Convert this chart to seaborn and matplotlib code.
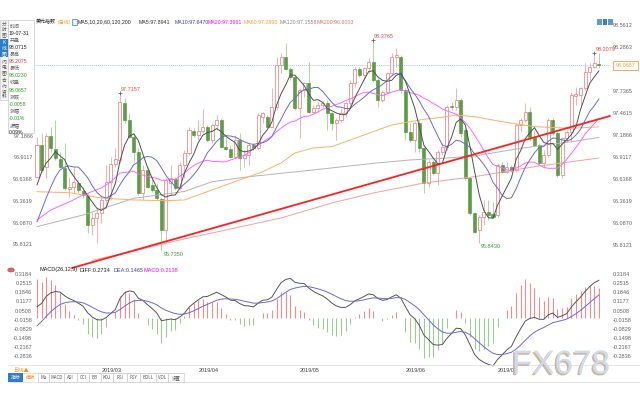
import numpy as np
import pandas as pd
import matplotlib
matplotlib.use("Agg")
import matplotlib.pyplot as plt
import matplotlib.patheffects as pe
import matplotlib.transforms as mtransforms
from matplotlib.patches import Rectangle
from matplotlib.lines import Line2D
import seaborn as sns

sns.set_theme(style="white")
plt.rcParams["font.family"] = ["Liberation Sans Narrow", "Liberation Sans", "Noto Sans CJK SC", "DejaVu Sans"]
CJK = ["Noto Sans CJK SC", "DejaVu Sans"]

# ---------------- data ----------------
dates = pd.bdate_range("2019-02-11", "2019-07-31")

opens = [96.666, 97.062, 96.791, 97.175, 97.008, 96.883, 96.779, 96.508, 96.541, 96.591,
         96.487, 96.429, 96.062, 96.145, 96.208, 96.375, 96.604, 96.821, 96.875, 97.591,
         97.375, 97.166, 96.979, 96.458, 96.750, 96.562, 96.500, 96.383, 96.000, 96.591,
         96.633, 96.520, 96.812, 96.958, 97.237, 97.187, 97.237, 97.291, 97.125, 97.312,
         97.375, 97.041, 97.008, 96.916, 97.125, 96.895, 96.937, 97.062, 97.020, 97.408,
         97.408, 97.291, 97.541, 98.062, 98.166, 98.008, 97.916, 97.520, 97.750, 97.833,
         97.479, 97.520, 97.562, 97.583, 97.458, 97.333, 97.375, 97.458, 97.583, 97.833,
         98.008, 97.937, 98.020, 98.104, 97.875, 97.625, 97.729, 97.958, 98.158, 98.166,
         97.750, 97.229, 97.125, 97.333, 97.020, 96.583, 96.854, 96.708, 96.979, 97.041,
         97.550, 97.541, 97.625, 97.250, 96.645, 96.208, 96.000, 96.166, 96.229, 96.196,
         96.187, 96.812, 96.729, 96.791, 96.750, 97.312, 97.375, 97.479, 97.166, 97.062,
         96.833, 96.937, 97.375, 97.208, 96.687, 97.145, 97.229, 97.679, 97.687, 97.770,
         97.979, 98.041, 98.0715]
highs = [97.166, 97.208, 97.208, 97.291, 97.375, 96.979, 97.083, 96.666, 96.791, 96.625,
         96.541, 96.458, 96.229, 96.291, 96.437, 96.812, 96.916, 97.020, 97.7157, 97.645,
         97.458, 97.208, 97.020, 96.812, 96.791, 96.666, 96.583, 96.416, 96.645, 96.812,
         96.666, 96.854, 97.000, 97.291, 97.270, 97.375, 97.512, 97.312, 97.333, 97.437,
         97.395, 97.166, 97.062, 97.187, 97.208, 97.000, 97.083, 97.083, 97.458, 97.479,
         97.437, 97.770, 98.166, 98.208, 98.333, 98.041, 97.937, 97.770, 97.854, 98.104,
         97.562, 97.604, 97.616, 97.625, 97.479, 97.395, 97.520, 97.604, 97.875, 98.041,
         98.041, 98.041, 98.145, 98.3765, 97.895, 97.750, 97.979, 98.208, 98.270, 98.187,
         97.770, 97.333, 97.354, 97.375, 97.041, 96.875, 96.875, 97.000, 97.083, 97.562,
         97.604, 97.770, 97.645, 97.270, 96.666, 96.229, 96.187, 96.375, 96.375, 96.354,
         96.833, 96.854, 96.854, 96.812, 97.333, 97.395, 97.583, 97.541, 97.250, 97.083,
         97.000, 97.395, 97.395, 97.229, 97.166, 97.250, 97.729, 97.791, 97.791, 98.083,
         98.083, 98.2079, 98.2075]
lows = [96.645, 96.729, 96.645, 96.979, 96.875, 96.770, 96.500, 96.416, 96.458, 96.458,
        96.395, 95.958, 95.937, 95.833, 96.083, 96.270, 96.375, 96.791, 96.833, 97.333,
        97.145, 96.854, 96.437, 96.375, 96.520, 96.479, 96.375, 95.735, 95.833, 96.437,
        96.500, 96.500, 96.645, 96.937, 97.166, 97.125, 97.208, 97.104, 97.083, 97.250,
        97.020, 97.000, 96.895, 96.895, 96.750, 96.791, 96.812, 97.000, 97.000, 97.333,
        97.270, 97.283, 97.500, 97.958, 98.000, 97.875, 97.500, 97.145, 97.666, 97.458,
        97.458, 97.479, 97.520, 97.250, 97.250, 97.125, 97.354, 97.416, 97.520, 97.791,
        97.916, 97.875, 97.958, 97.854, 97.541, 97.604, 97.708, 97.937, 98.041, 97.708,
        97.125, 97.104, 96.979, 96.979, 96.458, 96.541, 96.687, 96.562, 96.937, 97.000,
        97.500, 97.500, 97.166, 96.625, 96.187, 95.958, 95.843, 96.062, 96.125, 96.145,
        96.166, 96.708, 96.708, 96.729, 96.729, 97.229, 97.354, 97.125, 97.041, 96.812,
        96.770, 96.916, 97.187, 96.666, 96.645, 97.104, 97.104, 97.562, 97.541, 97.750,
        97.875, 98.020, 98.0230]
closes = [97.062, 96.750, 97.175, 97.020, 96.895, 96.791, 96.520, 96.541, 96.596, 96.500,
          96.437, 96.062, 96.145, 96.208, 96.375, 96.604, 96.821, 96.883, 97.604, 97.375,
          97.166, 96.979, 96.466, 96.750, 96.541, 96.500, 96.395, 96.000, 96.625, 96.645,
          96.520, 96.812, 96.958, 97.250, 97.187, 97.237, 97.291, 97.125, 97.312, 97.375,
          97.041, 97.008, 96.916, 97.125, 96.895, 96.937, 97.062, 97.020, 97.437, 97.458,
          97.291, 97.541, 98.062, 98.166, 98.008, 97.916, 97.520, 97.750, 97.833, 97.479,
          97.520, 97.562, 97.583, 97.458, 97.333, 97.375, 97.458, 97.583, 97.833, 98.008,
          97.937, 98.020, 98.104, 97.875, 97.625, 97.729, 97.958, 98.166, 98.187, 97.750,
          97.229, 97.125, 97.333, 97.020, 96.583, 96.854, 96.708, 96.979, 97.041, 97.541,
          97.533, 97.625, 97.208, 96.645, 96.208, 95.979, 96.166, 96.229, 96.187, 96.166,
          96.812, 96.729, 96.791, 96.750, 97.312, 97.375, 97.479, 97.166, 97.062, 96.833,
          96.937, 97.375, 97.208, 96.687, 97.145, 97.229, 97.687, 97.695, 97.770, 97.979,
          98.041, 98.083, 98.0657]

# moving-average values before each window fills
ma5_head = [96.562, 96.725, 96.837, 96.900]
ma10_head = [96.100, 96.250, 96.400, 96.537, 96.662, 96.750, 96.787, 96.800, 96.787]
ma20_head_idx = [0, 3, 7, 10, 14, 16, 18]
ma20_head = [96.125, 96.250, 96.350, 96.437, 96.525, 96.600, 96.712]
# long moving averages
ma60_idx = [0, 7, 14, 21, 28, 32, 38, 44, 49, 53, 56, 60, 64, 70, 77, 81, 84, 88, 91, 95, 101, 108, 116, 122]
ma60_val = [96.478, 96.466, 96.400, 96.375, 96.366, 96.375, 96.500, 96.625, 96.728, 96.837, 96.962, 97.025,
            97.041, 97.166, 97.312, 97.353, 97.383, 97.408, 97.437, 97.416, 97.353, 97.291, 97.271, 97.289]
ma120_idx = [0, 10, 21, 32, 38, 46, 53, 60, 73, 81, 88, 95, 105, 116, 122]
ma120_val = [96.041, 96.187, 96.396, 96.481, 96.603, 96.666, 96.708, 96.750, 96.833, 96.875, 96.896,
             96.925, 97.021, 97.103, 97.156]
ma200_idx = [12, 20, 31, 42, 53, 64, 73, 84, 95, 108, 122]
ma200_val = [95.620, 95.725, 95.875, 96.012, 96.150, 96.337, 96.462, 96.587, 96.666, 96.791, 96.900]
# hand-drawn trend line (session index, price)
trend_idx = [7.6, 124.4]
trend_val = [95.525, 97.425]
# MACD state just before the first session
macd_seed = {"ema12": 96.250, "ema26": 96.234, "dea": -0.096}

price_ticks = ["95.8121", "96.0870", "96.3619", "96.6368", "96.9117", "97.1866",
               "97.4615", "97.7365", "98.0114", "98.2863", "98.5612"]
left_price_ticks = ["95.8121", "96.0870", "96.3619", "96.6368", "96.9117"]
macd_ticks = ["0.3184", "0.2515", "0.1846", "0.1177", "0.0508", "-0.0158",
              "-0.0829", "-0.1498", "-0.2167", "-0.2836"]

ma_legend = [("MA5:97.8941", "#333333"), ("MA10:97.6470", "#3b3bd0"), ("MA20:97.3961", "#ff00ff"),
             ("MA60:97.2890", "#ff9933"), ("MA120:97.1558", "#8c8c8c"), ("MA200:96.9003", "#e8706a")]
info_rows = [("时间", "19-07-31", "#222222"), ("开盘", "98.0715", "#222222"),
             ("最高", "98.2075", "#e03030"), ("最低", "98.0230", "#2a9a2a"),
             ("收盘", "98.0657", "#2a9a2a"), ("涨跌", "-0.0058", "#2a9a2a"),
             ("涨幅", "-0.01%", "#2a9a2a"), ("振幅", "0.09%", "#222222")]
tab_names = ["Ma", "MACD", "ASI", "CCI", "BB", "KDJ", "RSI", "PSY", "BOLL", "VOL", "设置"]

# ---------------- derived series ----------------
O, Hh, L, C = (np.array(a, dtype=float) for a in (opens, highs, lows, closes))
n = len(C)
idx = np.arange(n)
cs = pd.Series(C)
ma5 = cs.rolling(5).mean().to_numpy()
ma5[:len(ma5_head)] = ma5_head
ma10 = cs.rolling(10).mean().to_numpy()
ma10[:len(ma10_head)] = ma10_head
ma20_full = cs.rolling(20).mean().to_numpy()
ma20_x = list(ma20_head_idx) + list(range(19, n))
ma20_y = list(ma20_head) + list(ma20_full[19:])

e12, e26, dea = macd_seed["ema12"], macd_seed["ema26"], macd_seed["dea"]
diff_l, dea_l = [], []
for c in C:
    e12 += 2 / 13 * (c - e12)
    e26 += 2 / 27 * (c - e26)
    d = e12 - e26
    dea += 0.2 * (d - dea)
    diff_l.append(d)
    dea_l.append(dea)
diff_a = np.array(diff_l)
dea_a = np.array(dea_l)
hist = 2 * (diff_a - dea_a)

# ---------------- figure ----------------
W, HP = 640, 400
fig = plt.figure(figsize=(6.4, 4.0), dpi=100)
fig.patch.set_facecolor("white")
fx = lambda x: x / W
fy = lambda y: 1 - y / HP

ax = fig.add_axes([fx(35), fy(263), fx(610) - fx(35), fy(15) - fy(263)])
axm = fig.add_axes([fx(35), fy(362), fx(610) - fx(35), fy(265) - fy(362)])
ax.set_zorder(2)
axm.patch.set_visible(False)
ax.patch.set_visible(False)
XL = (-0.434, 124.4)
for a in (ax, axm):
    a.set_xlim(*XL)
    for s in a.spines.values():
        s.set_visible(False)
ax.set_ylim(95.587, 98.687)
axm.set_ylim(-0.324, 0.384)

TS = 4.0
LAB = "#666666"

# candles
UP_EDGE, UP_WICK = "#f08a8a", "#f5b0b0"
DN_FILL, DN_EDGE, DN_WICK = "#5b9f45", "#4c8f38", "#acd6a0"
up = C >= O
ax.vlines(idx[up], L[up], Hh[up], color=UP_WICK, lw=0.7, zorder=2)
ax.vlines(idx[~up], L[~up], Hh[~up], color=DN_WICK, lw=0.7, zorder=2)
body = np.maximum(np.abs(C - O), 0.006)
bot = np.minimum(O, C)
ax.bar(idx[up], body[up], bottom=bot[up], width=0.66, facecolor="white",
       edgecolor=UP_EDGE, linewidth=0.6, zorder=3)
ax.bar(idx[~up], body[~up], bottom=bot[~up], width=0.66, facecolor=DN_FILL,
       edgecolor=DN_EDGE, linewidth=0.4, zorder=3)

# moving averages
sns.lineplot(x=ma200_idx, y=ma200_val, ax=ax, color="#f0a0a0", lw=0.7, zorder=4)
sns.lineplot(x=ma120_idx, y=ma120_val, ax=ax, color="#b4b4b4", lw=0.7, zorder=4)
sns.lineplot(x=ma60_idx, y=ma60_val, ax=ax, color="#ffb060", lw=0.7, zorder=4)
sns.lineplot(x=ma20_x, y=ma20_y, ax=ax, color="#ff66ff", lw=0.7, zorder=4)
sns.lineplot(x=idx, y=ma10, ax=ax, color="#6a6ad2", lw=0.7, zorder=4)
sns.lineplot(x=idx, y=ma5, ax=ax, color="#505050", lw=0.7, zorder=4)
ax.plot(trend_idx, trend_val, color="#ff2020", lw=1.3, zorder=5, clip_on=False)

# current price dotted line
ax.axhline(C[-1], color="#7aaee0", lw=0.6, ls=(0, (1, 1.5)), zorder=1)

# high / low marks
hi_marks = [int(np.argmax(Hh[a:b])) + a for a, b in [(0, 40), (40, 100), (100, n)]]
lo_marks = [int(np.argmin(L[a:b])) + a for a, b in [(0, 60), (60, n)]]
for i in hi_marks:
    ax.plot([i], [Hh[i]], marker="+", color="#555555", ms=3, mew=0.5, zorder=6)
    ax.annotate(f"{Hh[i]:.4f}", (i, Hh[i]), xytext=(1, 1), textcoords="offset pixels",
                ha="left", va="bottom", fontsize=TS, color="#e04848", zorder=6)
for i in lo_marks:
    ax.annotate(f"{L[i]:.4f}", (i, L[i]), xytext=(2, -1), textcoords="offset pixels",
                ha="left", va="top", fontsize=TS, color="#38a038", zorder=6)

# price axis labels: right side full, left side only below the info box
ax.set_yticks([float(t) for t in price_ticks], price_ticks)
ax.set_xticks([])
ax.tick_params(axis="y", length=0, left=False, right=False, labelleft=False, labelright=True,
               labelsize=TS, labelcolor=LAB, pad=2)
ltr = mtransforms.blended_transform_factory(ax.transAxes, ax.transData)
for t in left_price_ticks:
    ax.text(-0.0035, float(t), t, transform=ltr, ha="right", va="center",
            fontsize=TS, color=LAB, clip_on=False)

# MACD panel
pos = hist >= 0
axm.vlines(idx[pos], 0, hist[pos], color="#f08c8c", lw=0.8)
axm.vlines(idx[~pos], 0, hist[~pos], color="#98cc90", lw=0.8)
sns.lineplot(x=idx, y=diff_a, ax=axm, color="#555555", lw=0.7, clip_on=False)
sns.lineplot(x=idx, y=dea_a, ax=axm, color="#6a6ad2", lw=0.7, clip_on=False)
axm.set_yticks([float(t) for t in macd_ticks], macd_ticks)
month_first = [i for i in range(1, n) if dates[i].month != dates[i - 1].month]
month_labels = [dates[i].strftime("%Y/%m") for i in month_first]
axm.set_xticks(month_first, month_labels)
axm.tick_params(axis="y", length=0, left=False, right=False, labelleft=True, labelright=True,
                labelsize=TS, labelcolor=LAB, pad=2)
axm.tick_params(axis="x", length=0, bottom=False, labelbottom=True, labelsize=TS,
                labelcolor="#444444", pad=4)
for lab in axm.get_xticklabels():
    lab.set_ha("left")
for a in (ax, axm):
    a.set_xlabel("")
    a.set_ylabel("")

# ---------------- chrome ----------------
def ftext(x, y, s, **kw):
    kw.setdefault("fontsize", TS)
    kw.setdefault("va", "center")
    fig.text(fx(x), fy(y), s, **kw)

def frect(x0, y0, x1, y1, **kw):
    fig.patches.append(Rectangle((fx(x0), fy(y1)), fx(x1) - fx(x0), fy(y0) - fy(y1),
                                 transform=fig.transFigure, **kw))

def fline(x0, y0, x1, y1, **kw):
    fig.lines.append(Line2D([fx(x0), fx(x1)], [fy(y0), fy(y1)], transform=fig.transFigure, **kw))

# title row
ftext(36, 22, "美元指数", family=CJK, fontsize=3.6, color="#222222")
ftext(57, 22, "(日线)", family=CJK, fontsize=3.6, color="#ff9a1a")
frect(72, 19, 77, 25, facecolor="#e8f0fb", edgecolor="#3a7bd5", lw=0.5, zorder=5)
ftext(78, 22, "MA5,10,20,60,120,200", color="#222222", fontsize=3.8)
for (s, col), x in zip(ma_legend, [139, 175, 208, 244, 280, 317]):
    ftext(x, 22, s, color=col, fontsize=3.8)
for k, x in enumerate([597, 602.5, 608]):
    frect(x, 19, x + 4.5, 25, facecolor="#5b9bd5" if k != 1 else "#3a7bd5", edgecolor="none", zorder=5)

# left vertical tabs
frect(0, 20, 8, 100, facecolor="#f3f3f3", edgecolor="#cccccc", lw=0.5, zorder=5)
frect(0, 39, 8, 57, facecolor="#2f7bd0", edgecolor="none", zorder=6)
for word, y0, col in [("分时图", 24, "#555555"), ("K线图", 43, "white"), ("闪电图", 62, "#555555"),
                      ("合约资料", 81, "#555555")]:
    for j, ch in enumerate(word):
        ftext(4, y0 + j * 5.3, ch, family=CJK, fontsize=3.4, color=col, ha="center", zorder=7)

# info box
frect(8, 20, 34, 133, facecolor="white", edgecolor="#c8c8c8", lw=0.5, zorder=5)
yy = 26
for lab, val, col in info_rows:
    ftext(10, yy, lab, family=CJK, fontsize=3.6, color="#666666", zorder=6)
    ftext(9, yy + 7.2, val, color=col, fontsize=3.7, zorder=6)
    yy += 14.2
# partially hidden left label just under the box
ftext(33.5, 136, price_ticks[5], color=LAB, ha="right", zorder=4)

# price box on right axis
frect(613, 61, 638, 70, facecolor="white", edgecolor="#f5a040", lw=0.6, zorder=5)
ftext(625.5, 65.5, f"{C[-1]:.4f}", color="#f5a040", ha="center", zorder=6)

# MACD header
fig.patches.append(plt.Circle((fx(11), fy(270)), 0.005, transform=fig.transFigure,
                              facecolor="#f06060", edgecolor="#c03030", lw=0.4, zorder=5))
ftext(40, 270, "MACD(26,12,9)", color="#222222")
ftext(80, 270, "DIFF:0.2734", color="#222222")
ftext(113, 270, "DEA:0.1465", color="#3b3bd0")
ftext(143, 270, "MACD:0.2138", color="#ff00ff")

# bottom bars
fline(8, 364.5, 640, 364.5, color="#e2e2e2", lw=0.6)
ftext(13, 370.5, "日线▲", family=CJK, fontsize=3.8, color="#ff8c1a")
fline(8, 373, 184, 373, color="#d0d0d0", lw=0.5)
fline(8, 382, 640, 382, color="#d8d8d8", lw=0.5)
frect(8, 373, 23, 381.5, facecolor="#2f7bd0", edgecolor="none", zorder=5)
ftext(15.5, 377.3, "指标", family=CJK, fontsize=3.5, color="white", ha="center", zorder=6)
ftext(30.5, 377.3, "模板", family=CJK, fontsize=3.5, color="#ff8c1a", ha="center", zorder=6)
edges = [38, 49, 64, 77, 89, 101, 113, 127, 140, 156, 168, 184]
for k, name in enumerate(tab_names):
    x0, x1 = edges[k], edges[k + 1]
    frect(x0, 373, x1, 381.5, facecolor="none", edgecolor="#d0d0d0", lw=0.5, zorder=5)
    ftext((x0 + x1) / 2, 377.3, name, family=["Liberation Sans Narrow", "Noto Sans CJK SC", "DejaVu Sans"],
          fontsize=3.2, color="#555555", ha="center", zorder=6)

# watermark
fig.text(fx(512), fy(365), "FX678", fontsize=24, family=["Liberation Sans", "DejaVu Sans"],
         color="#cfdbea", va="center", ha="left", zorder=8,
         path_effects=[pe.SimplePatchShadow(offset=(-1.2, -1.2), shadow_rgbFace="#b89a78", alpha=0.7),
                       pe.Normal()])

fig.savefig("out.png", dpi=100, facecolor="white")
